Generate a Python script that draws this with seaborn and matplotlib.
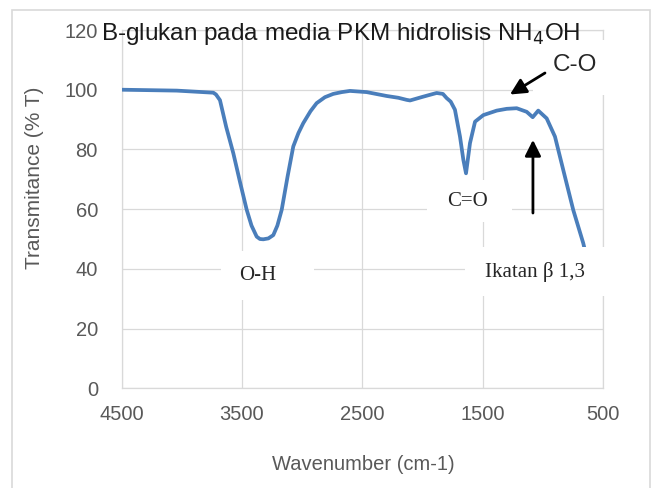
import numpy as np
import pandas as pd
import matplotlib
matplotlib.use("Agg")
import matplotlib.pyplot as plt
from matplotlib.patches import Rectangle
import seaborn as sns

# FTIR spectrum
wavenumber = [4500, 4041, 3737, 3715, 3682, 3630, 3571, 3515, 3460, 3420, 3377, 3350, 3322,
              3280, 3239, 3205, 3169, 3120, 3073, 3030, 2990, 2930, 2879, 2810, 2741, 2670,
              2602, 2463, 2297, 2200, 2131, 2103, 2000, 1910, 1882, 1830, 1799, 1765, 1730,
              1688, 1660, 1638, 1620, 1605, 1563, 1494, 1383, 1300, 1217, 1134, 1084, 1038,
              968, 899, 830, 747, 664, 640]
transmittance = [100.0, 99.7, 99.0, 98.4, 96.5, 87.5, 78.7, 69.0, 59.8, 54.5, 50.8, 50.0, 49.9,
                 50.2, 51.3, 54.5, 59.8, 71.0, 81.0, 85.5, 88.8, 92.8, 95.5, 97.5, 98.6, 99.2,
                 99.6, 99.2, 97.9, 97.3, 96.6, 96.4, 97.6, 98.6, 98.9, 98.6, 97.2, 96.0, 93.3,
                 84.3, 76.5, 72.0, 77.5, 82.1, 89.3, 91.5, 93.0, 93.6, 93.8, 92.6, 90.8, 93.0,
                 90.4, 84.3, 73.1, 59.7, 48.6, 44.5]

x_ticks = [4500, 3500, 2500, 1500, 500]
y_ticks = [0, 20, 40, 60, 80, 100, 120]

df = pd.DataFrame({"wn": wavenumber, "T": transmittance})

sns.set_style("white")
plt.rcParams["font.family"] = ["Liberation Sans", "DejaVu Sans"]

W, H = 654, 488
fig = plt.figure(figsize=(W / 100, H / 100), dpi=100)
ax = fig.add_axes([121.5 / W, 1 - 388.3 / H, (603 - 121.5) / W, (388.3 - 30) / H])


def px(x, y):
    # pixel position (from top-left) to figure fraction
    return x / W, 1 - y / H


grid_c = "#d9d9d9"
sns.lineplot(data=df, x="wn", y="T", sort=False, estimator=None, ax=ax,
             color="#4a7ebb", linewidth=2.7, zorder=3)

ax.set_xlim(4500, 500)
ax.set_ylim(0, 120)
ax.set_xticks(x_ticks)
ax.set_yticks(y_ticks)
ax.grid(True, color=grid_c, linewidth=0.9, zorder=0)
ax.set_axisbelow(True)
for s in ax.spines.values():
    s.set_color(grid_c)
    s.set_linewidth(0.9)
ax.tick_params(axis="both", length=0, labelsize=14.5, labelcolor="#595959")
ax.tick_params(axis="y", pad=17)
ax.tick_params(axis="x", pad=12)
ax.set_xlabel("")
ax.set_ylabel("")

# outer chart frame
fig.patches.append(Rectangle((12 / W, -0.01), (650 - 12) / W, 1 - 10 / H + 0.01,
                             transform=fig.transFigure, fill=False,
                             edgecolor=grid_c, linewidth=1.2))

# white label boxes (left, top, right, bottom in pixels)
label_boxes = [(221, 251, 314, 300), (427, 180, 512, 222),
               (465, 247, 615, 296), (533, 40, 615, 95)]
for l, t, r, b in label_boxes:
    ax.add_patch(Rectangle(px(l, b), (r - l) / W, (b - t) / H,
                           transform=fig.transFigure, facecolor="white",
                           edgecolor="none", clip_on=False, zorder=4))

fig.text(*px(341, 34), "B-glukan pada media PKM hidrolisis NH$_4$OH",
         ha="center", va="center", fontsize=17.5, color="#1a1a1a")
fig.text(*px(363, 465), "Wavenumber (cm-1)", ha="center", va="center",
         fontsize=14.5, color="#595959")
fig.text(*px(35, 178), "Transmitance (% T)", ha="center", va="center",
         rotation=90, fontsize=15, color="#595959")

serif = ["Liberation Serif", "DejaVu Serif"]
fig.text(*px(258, 275), "O-H", ha="center", va="center", fontsize=15, family=serif)
fig.text(*px(467, 202), "C=O", ha="center", va="center", fontsize=15, family=serif)
fig.text(*px(535, 272), "Ikatan β 1,3", ha="center", va="center", fontsize=15,
         family=serif)
fig.text(*px(575, 65), "C-O", ha="center", va="center", fontsize=17.5)

arrow = dict(arrowstyle="-|>", mutation_scale=24, lw=2, color="black",
             shrinkA=0, shrinkB=0)
ax.annotate("", xy=(1273, 98.4), xytext=(982, 105.6), arrowprops=arrow,
            zorder=5, annotation_clip=False)
ax.annotate("", xy=(1082, 83.2), xytext=(1082, 58.7), arrowprops=arrow, zorder=5)

fig.savefig("out.png", dpi=100)
